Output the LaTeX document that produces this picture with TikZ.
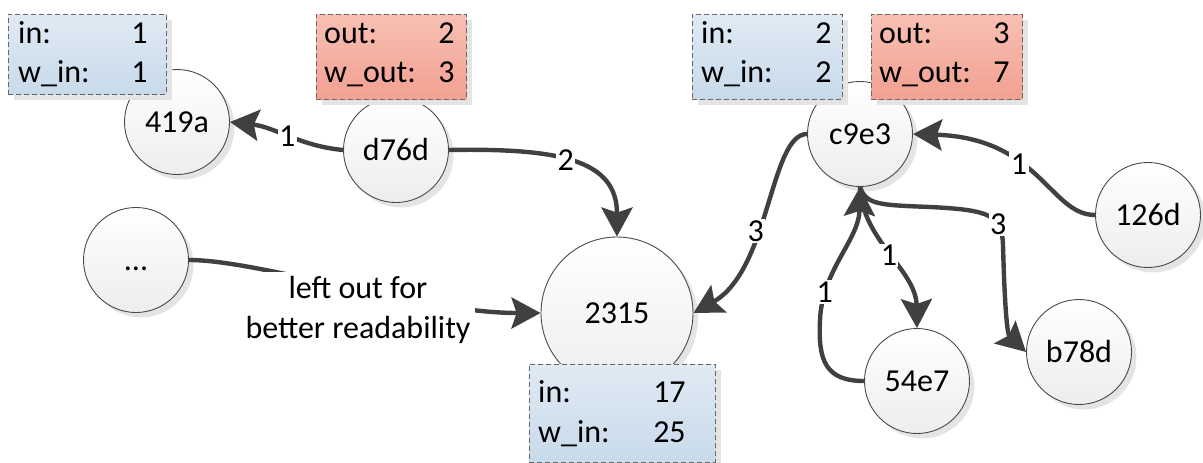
\documentclass[tikz,border=0pt]{standalone}
\usepackage{fontspec}
\setmainfont{Carlito}
\usetikzlibrary{arrows.meta,shadows,calc}

\definecolor{edgegray}{HTML}{404040}
\definecolor{rimgray}{HTML}{4A4A4A}
\definecolor{inTop}{HTML}{E0EAF4}
\definecolor{inBot}{HTML}{C8DAEA}
\definecolor{outTop}{HTML}{F7C0B3}
\definecolor{outBot}{HTML}{F2A091}
\definecolor{shadowgray}{HTML}{E4E4E4}

\begin{document}
\begin{tikzpicture}[x=1pt,y=-1pt,
  every node/.style={font=\fontsize{32}{40}\selectfont},
  vertex/.style={circle, draw=rimgray, line width=0.9pt,
    top color=white, bottom color=black!7,
    minimum size=105pt, inner sep=0pt,
    drop shadow={shadow xshift=5pt, shadow yshift=-5pt, fill=shadowgray, opacity=1}},
  bigvertex/.style={vertex, minimum size=152pt},
  statbox/.style={rectangle, anchor=north west, inner sep=0pt,
    draw=black!60, dash pattern=on 5pt off 3pt, line width=0.9pt,
    drop shadow={shadow xshift=6pt, shadow yshift=-6pt, fill=shadowgray, opacity=1}},
  inbox/.style={statbox, top color=inTop, bottom color=inBot},
  outbox/.style={statbox, top color=outTop, bottom color=outBot},
  key/.style={anchor=base west, inner sep=0pt},
  val/.style={anchor=base east, inner sep=0pt},
  link/.style={draw=edgegray, line width=4.4pt,
    -{Stealth[length=29pt 0 0, width=31pt 0 0, inset=5pt 0]}},
  weight/.style={fill=white, inner sep=1.5pt},
]
\useasboundingbox (0,0) rectangle (1203,463);

% vertices
\node[vertex] (n419a) at (177,122) {419a};
\node[vertex] (nd76d) at (396,150) {d76d};
\node[vertex] (nc9e3) at (860,134) {c9e3};
\node[vertex] (n126d) at (1148,215) {126d};
\node[vertex] (ndots) at (136,260) {\vphantom{0}...};
\node[bigvertex] (n2315) at (617,313) {2315};
\node[vertex] (n54e7) at (917,381) {54e7};
\node[vertex] (nb78d) at (1079,352) {b78d};

% weighted edges
\draw[link] (nd76d.west) .. controls (300,146) and (275,127) .. (n419a.east)
  node[weight, pos=0.5] (w1) {1};
\draw[link] (nd76d.east) .. controls (560,148) and (617,160) .. (n2315.north)
  node[weight, pos=0.45] (w2) {2};
\draw[link] (nc9e3.west) .. controls (770,134) and (770,270) .. (n2315.east)
  node[weight, pos=0.6] (w3) {3};
\draw[link] (n126d.west) .. controls (1050,215) and (1040,138) .. (nc9e3.east)
  node[weight, pos=0.6] (w4) {1};
\draw[link] (nc9e3.south) .. controls (866,205) and (880,205) .. (930,207)
  .. controls (990,210) and (1002,215) .. (1003,245)
  node[weight, pos=0.7] (w5) {3}
  .. controls (1005,320) and (1008,335) .. (nb78d.west);
\draw[link] (nc9e3.south) .. controls (862,240) and (916,270) .. (n54e7.north)
  node[weight, pos=0.5] (w6) {1};
\draw[link] (n54e7.west) .. controls (825,381) and (818,360) .. (820,320)
  .. controls (822,270) and (859,240) .. (nc9e3.south)
  node[weight, pos=0.2] (w7) {1};

% elided neighbours of 2315
\draw[link] (ndots.east) .. controls (260,260) and (420,313) .. (n2315.west);
\node[fill=white, align=center, inner sep=4pt] (note) at (358,310)
  {left out for\\better readability};

% degree summaries
\node[inbox, minimum width=158pt, minimum height=80pt] (s419a) at (8,14) {};
\node[key] at ($(s419a.north west)+(10,29)$) {in:};
\node[key] at ($(s419a.north west)+(10,68)$) {w\_in:};
\node[val] at ($(s419a.north east)+(-19,29)$) {1};
\node[val] at ($(s419a.north east)+(-19,68)$) {1};

\node[outbox, minimum width=150pt, minimum height=85pt] (sd76d) at (316,14) {};
\node[key] at ($(sd76d.north west)+(8,29)$) {out:};
\node[key] at ($(sd76d.north west)+(8,68)$) {w\_out:};
\node[val] at ($(sd76d.north east)+(-12,29)$) {2};
\node[val] at ($(sd76d.north east)+(-12,68)$) {3};

\node[inbox, minimum width=150pt, minimum height=85pt] (sc9in) at (692,14) {};
\node[key] at ($(sc9in.north west)+(9,29)$) {in:};
\node[key] at ($(sc9in.north west)+(9,68)$) {w\_in:};
\node[val] at ($(sc9in.north east)+(-11,29)$) {2};
\node[val] at ($(sc9in.north east)+(-11,68)$) {2};

\node[outbox, minimum width=151pt, minimum height=85pt] (sc9out) at (871,14) {};
\node[key] at ($(sc9out.north west)+(8,29)$) {out:};
\node[key] at ($(sc9out.north west)+(8,68)$) {w\_out:};
\node[val] at ($(sc9out.north east)+(-13,29)$) {3};
\node[val] at ($(sc9out.north east)+(-13,68)$) {7};

\node[inbox, minimum width=186pt, minimum height=98pt] (s2315) at (529,364) {};
\node[key] at ($(s2315.north west)+(9,38)$) {in:};
\node[key] at ($(s2315.north west)+(9,78)$) {w\_in:};
\node[val] at ($(s2315.north east)+(-30,38)$) {17};
\node[val] at ($(s2315.north east)+(-30,78)$) {25};
\end{tikzpicture}
\end{document}
